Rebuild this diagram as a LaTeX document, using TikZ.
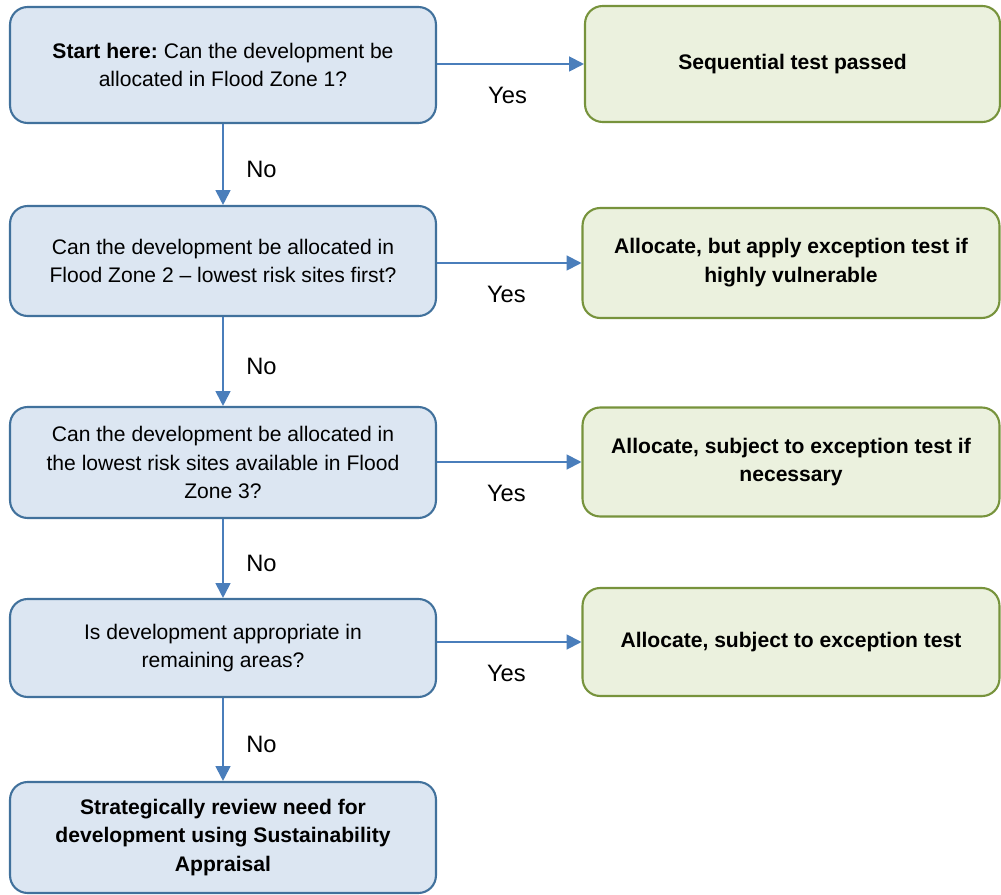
\documentclass[tikz,border=0pt]{standalone}
\usepackage{fontspec}
\setmainfont{Liberation Sans}
\usetikzlibrary{arrows.meta,positioning}
\definecolor{qfill}{HTML}{DCE6F2}
\definecolor{qline}{HTML}{41719C}
\definecolor{afill}{HTML}{EBF1DE}
\definecolor{aline}{HTML}{77933C}
\definecolor{flow}{HTML}{4A7EBB}
\tikzset{
  question/.style={draw=qline,fill=qfill,line width=1.2pt,rounded corners=10pt,
    align=center,minimum width=8.52cm,font=\fontsize{12}{16.4}\selectfont},
  answer/.style={draw=aline,fill=afill,line width=1.2pt,rounded corners=10pt,
    align=center,minimum width=8.34cm,font=\fontsize{12}{16.4}\selectfont\bfseries},
  flowline/.style={-{Triangle[length=8.5pt,width=8.5pt]},draw=flow,fill=flow,line width=1.1pt},
  flowlabel/.style={font=\fontsize{13.5}{15}\selectfont}
}

\begin{document}
\begin{tikzpicture}[x=0.02cm,y=-0.02cm]
    \useasboundingbox (0,0) rectangle (1001,895);

    \node[question,minimum height=2.32cm] (q1) at (223,65) {\textbf{Start here:}\ Can the development be\\allocated in Flood Zone 1?};
    \node[question,minimum height=2.2cm] (q2) at (223,261) {Can the development be allocated in\\Flood Zone 2 -- lowest risk sites first?};
    \node[question,minimum height=2.22cm] (q3) at (223,462.5) {Can the development be allocated in\\the lowest risk sites available in Flood\\Zone 3?};
    \node[question,minimum height=1.96cm] (q4) at (223,648) {Is development appropriate in\\remaining areas?};
    \node[question,minimum height=2.22cm,font=\fontsize{12}{16.4}\selectfont\bfseries] (q5) at (223,837.5) {Strategically review need for\\development using Sustainability\\Appraisal};

    \node[answer,minimum height=2.32cm,minimum width=8.3cm] (a1) at (792.5,64) {Sequential test passed};
    \node[answer,minimum height=2.2cm] (a2) at (791,263) {Allocate, but apply exception test if\\highly vulnerable};
    \node[answer,minimum height=2.18cm] (a3) at (791,462) {Allocate, subject to exception test if\\necessary};
    \node[answer,minimum height=2.16cm] (a4) at (791,642) {Allocate, subject to exception test};

    \foreach \i in {1,2,3,4} {
      \draw[flowline] (q\i.east |- a\i.west) -- node[flowlabel,pos=0.48,below=0.32cm] {Yes} (a\i.west);
    }

    \foreach \i/\j in {1/2,2/3,3/4,4/5} {
      \draw[flowline] (q\i.south) -- node[flowlabel,pos=0.56,right=0.33cm] {No} (q\j.north);
    }
  \end{tikzpicture}
\end{document}
